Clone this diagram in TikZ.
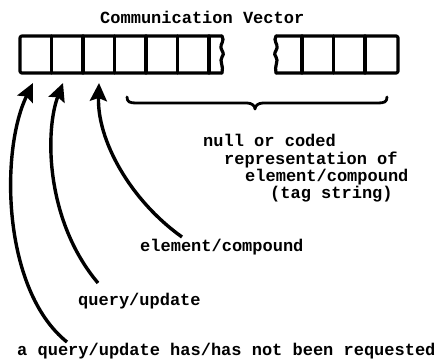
\documentclass[tikz,border=0pt]{standalone}
\usepackage{fontspec}
\newfontfamily\cvfont{Liberation Mono}
\usetikzlibrary{arrows.meta}
\begin{document}
\begin{tikzpicture}[x=1pt,y=-1pt,
  lbl/.style={font=\cvfont\bfseries\fontsize{17}{18}\selectfont, inner sep=0pt, anchor=base west},
  frame/.style={line width=3.2pt, line join=round, line cap=round},
  pointer/.style={line width=3.4pt, -{Stealth[length=18pt,width=17pt,inset=3pt]}}
]
\useasboundingbox (0,0) rectangle (444,359);
% title
\node[lbl] (title) at (100,23) {Communication Vector};
% left part of vector
\draw[frame, rounded corners=2pt] (222,36) -- (20,36) -- (20,73) -- (222,73);
\draw[frame] (222,36) .. controls (225,41) and (220,44) .. (221,48)
  .. controls (222,52) and (225,53) .. (222,57)
  .. controls (219,61) and (224,66) .. (222,73);
\foreach \x in {51.5,83,114.5,146,177.5,209} \draw[frame] (\x,36) -- (\x,73);
% right part of vector
\draw[frame, rounded corners=2pt] (276,36) -- (398,36) -- (398,73) -- (276,73);
\draw[frame] (276,36) .. controls (273,41) and (278,44) .. (277,48)
  .. controls (276,52) and (273,53) .. (276,57)
  .. controls (279,61) and (274,66) .. (276,73);
\foreach \x in {302,333.5,365} \draw[frame] (\x,36) -- (\x,73);
% cell targets
\coordinate (c1) at (33,83);
\coordinate (c2) at (63,83);
\coordinate (c3) at (99,83);
% brace
\draw[frame, line width=2.8pt] (127,97) .. controls (127,102) and (130,103) .. (136,103)
  -- (247,103) .. controls (252,103) and (255,106) .. (255,109)
  .. controls (255,106) and (258,103) .. (263,103)
  -- (378,103) .. controls (384,103) and (387,102) .. (387,97);
% labels
\node[lbl] (r1) at (203,146) {null or coded};
\node[lbl] (r2) at (224,164) {representation of};
\node[lbl] (r3) at (245,181) {element/compound};
\node[lbl] (r4) at (270,198) {(tag string)};
\node[lbl] (ec) at (140,251) {element/compound};
\node[lbl] (qu) at (78,305) {query/update};
\node[lbl] (req) at (17,355) {a query/update has/has not been requested};
% connector start points
\coordinate (e3) at (182,237);
\coordinate (e2) at (98,283);
\coordinate (e1) at (67,342);
% pointers
\draw[pointer] (e1) .. controls (2,290) and (0,150) .. (c1);
\draw[pointer] (e2) .. controls (45,220) and (45,130) .. (c2);
\draw[pointer] (e3) .. controls (130,200) and (97,140) .. (c3);
\end{tikzpicture}
\end{document}
